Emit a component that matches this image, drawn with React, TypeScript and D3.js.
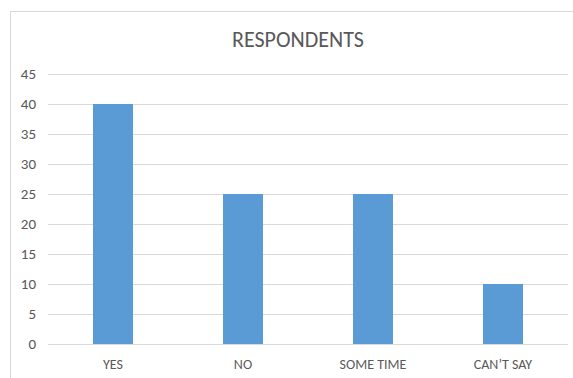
import React from "react";
import * as d3 from "d3";

const categories = ["YES", "NO", "SOME TIME", "CAN\u2019T SAY"];
const values = [40, 25, 25, 10];
const yTicks = [0, 5, 10, 15, 20, 25, 30, 35, 40, 45];
const title = "RESPONDENTS";

const width = 573;
const height = 378;
const plotLeft = 48;
const plotRight = 568;
const plotTop = 74;
const plotBottom = 344;
const font = "Carlito, 'Liberation Sans Narrow', 'Liberation Sans', Arial, sans-serif";

export default function App() {
  // 4 categories, step 130px, bars 40px wide
  const x = d3
    .scaleBand()
    .domain(categories)
    .range([plotLeft, plotRight])
    .paddingInner(90 / 130)
    .paddingOuter(45 / 130);

  const y = d3.scaleLinear().domain([0, 45]).range([plotBottom, plotTop]);

  return (
    <svg
      width={width}
      height={height}
      style={{ position: "absolute", left: 0, top: 0, background: "#fff" }}
    >
      {/* chart border, cut off at right and bottom */}
      <rect x={10.5} y={11.5} width={600} height={400} fill="#fff" stroke="#d9d9d9" />
      <text
        x={298}
        y={47}
        textAnchor="middle"
        fontFamily={font}
        fontSize={22}
        fill="#595959"
      >
        {title}
      </text>
      {/* gridlines */}
      {yTicks.map((t) => (
        <line
          key={t}
          x1={plotLeft}
          x2={plotRight}
          y1={Math.round(y(t)) + 0.5}
          y2={Math.round(y(t)) + 0.5}
          stroke="#d9d9d9"
          strokeWidth={1}
        />
      ))}
      {/* y labels */}
      {yTicks.map((t) => (
        <text
          key={"l" + t}
          x={36}
          y={y(t)}
          dy="0.33em"
          textAnchor="end"
          fontFamily={font}
          fontSize={15}
          fill="#595959"
        >
          {t}
        </text>
      ))}
      {/* bars */}
      {categories.map((c, i) => (
        <rect
          key={c}
          x={x(c)}
          y={y(values[i])}
          width={x.bandwidth()}
          height={y(0) - y(values[i])}
          fill="#5b9bd5"
        />
      ))}
      {/* x labels */}
      {categories.map((c) => (
        <text
          key={"x" + c}
          x={(x(c) ?? 0) + x.bandwidth() / 2}
          y={369}
          textAnchor="middle"
          fontFamily={font}
          fontSize={14}
          fill="#595959"
        >
          {c}
        </text>
      ))}
    </svg>
  );
}
